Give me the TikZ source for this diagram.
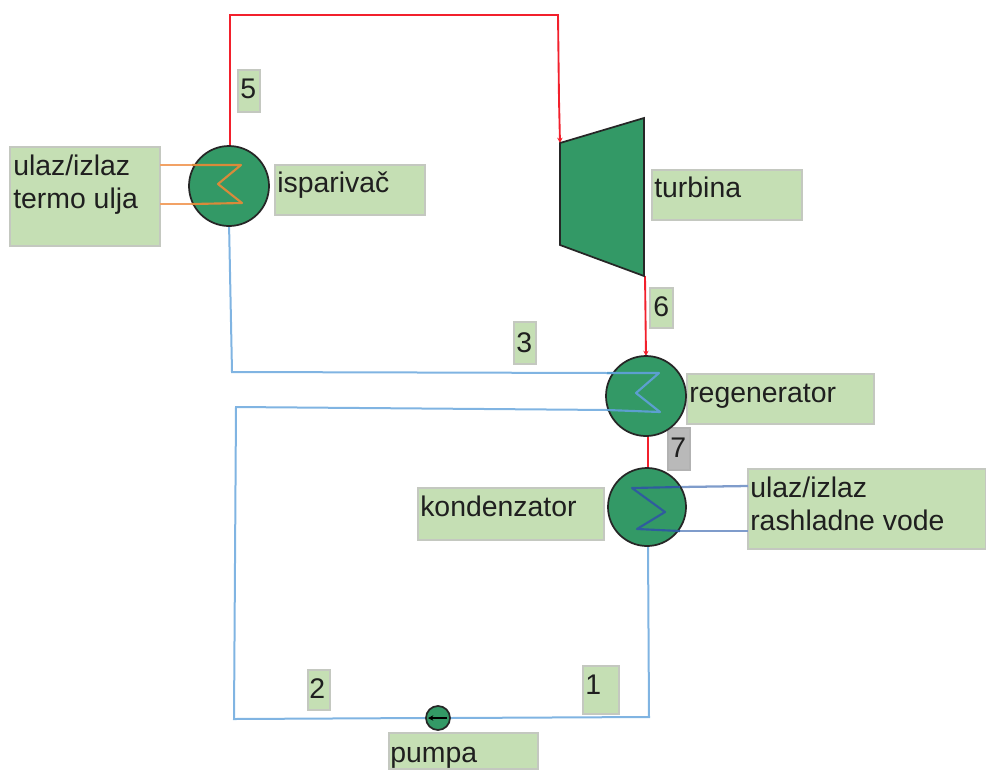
\documentclass[tikz,border=0pt]{standalone}
\usepackage{fontspec}
\setmainfont{Liberation Sans}
\usetikzlibrary{arrows.meta}
\definecolor{boxg}{HTML}{C5DFB4}
\definecolor{boxb}{HTML}{C4C8C0}
\definecolor{eqg}{HTML}{339966}
\definecolor{pipeblue}{HTML}{80B4E2}
\definecolor{coilblue}{HTML}{5C9FD0}
\definecolor{darkblue}{HTML}{2F5C9E}
\definecolor{extblue}{HTML}{7F9CCB}
\definecolor{hot}{HTML}{F2202C}
\definecolor{oil}{HTML}{F2A265}
\definecolor{oilc}{HTML}{D98A3A}
\tikzset{
  x=0.75pt,y=-0.75pt,
  labbox/.style={draw=boxb,line width=1.2pt,fill=boxg,anchor=north west,inner sep=0pt,outer sep=0pt},
  graybox/.style={labbox,draw=gray!60,fill=gray!55},
  txt/.style={anchor=base west,inner sep=0pt,font=\fontsize{21.3}{26}\selectfont,text=black!88},
  equip/.style={circle,draw=black!85,line width=1.3pt,fill=eqg,inner sep=0pt,outer sep=0pt},
  hotpipe/.style={hot,line width=1.4pt},
  coldpipe/.style={pipeblue,line width=1.5pt},
  coilc/.style={coilblue,line width=1.6pt},
  oilpipe/.style={oil,line width=1.5pt},
  oilcoil/.style={oilc,line width=1.6pt},
  darkcoil/.style={darkblue,line width=1.6pt},
  extpipe/.style={extblue,line width=1.7pt},
  tip/.style={-{Stealth[length=4pt,width=4pt]}}
}
\begin{document}
\begin{tikzpicture}
\useasboundingbox (0,0) rectangle (986,769);
% label boxes
\node[labbox,minimum width=150*0.75pt,minimum height=99*0.75pt] (bTermo) at (10,147) {};
\node[labbox,minimum width=150*0.75pt,minimum height=50*0.75pt] (bIsp) at (275,165) {};
\node[labbox,minimum width=150*0.75pt,minimum height=50*0.75pt] (bTurb) at (652,170) {};
\node[labbox,minimum width=22*0.75pt,minimum height=42*0.75pt] (b5) at (238,70) {};
\node[labbox,minimum width=23*0.75pt,minimum height=40*0.75pt] (b6) at (650,288) {};
\node[labbox,minimum width=22*0.75pt,minimum height=42*0.75pt] (b3) at (514,322) {};
\node[labbox,minimum width=187*0.75pt,minimum height=50*0.75pt] (bReg) at (687,374) {};
\node[graybox,minimum width=22*0.75pt,minimum height=42*0.75pt] (b7) at (668,428) {};
\node[labbox,minimum width=186*0.75pt,minimum height=52*0.75pt] (bKond) at (418,488) {};
\node[labbox,minimum width=238*0.75pt,minimum height=80*0.75pt] (bVoda) at (748,469) {};
\node[labbox,minimum width=22*0.75pt,minimum height=40*0.75pt] (b2) at (308,670) {};
\node[labbox,minimum width=36*0.75pt,minimum height=48*0.75pt] (b1) at (583,666) {};
\node[labbox,minimum width=149*0.75pt,minimum height=36*0.75pt] (bPump) at (389,733) {};
% texts
\node[txt] (tT1) at (13,175) {ulaz/izlaz};
\node[txt] (tT2) at (13,208) {termo ulja};
\node[txt] (tIsp) at (277,192) {isparivač};
\node[txt] (tTurb) at (654,197) {turbina};
\node[txt] (t5) at (240,98) {5};
\node[txt] (t6) at (653,316) {6};
\node[txt] (t3) at (516,352) {3};
\node[txt] (tReg) at (689,402) {regenerator};
\node[txt] (t7) at (670,457) {7};
\node[txt] (tKond) at (420,516) {kondenzator};
\node[txt] (tV1) at (750,497) {ulaz/izlaz};
\node[txt] (tV2) at (750,530) {rashladne vode};
\node[txt] (t2) at (309,698) {2};
\node[txt] (t1) at (585,694) {1};
\node[txt] (tPump) at (390,762) {pumpa};
% equipment anchors
\coordinate (a1) at (230,15);
\coordinate (a2) at (558,15);
\coordinate (tu1) at (560,143);
\coordinate (tu2) at (644,118);
\coordinate (tu3) at (644,276);
\coordinate (tu4) at (560,245);
\coordinate (b1c) at (232,372);
\coordinate (c1) at (236,407);
\coordinate (c2) at (234,719);
\coordinate (c3) at (649,717);
% external pipes
\draw[oilpipe] (160,165) -- (200,165);
\draw[oilpipe] (160,204) -- (200,204);
\draw[extpipe] (680,487) -- (748,486);
\draw[extpipe] (680,531) -- (748,531);
% pipes (below equipment)
\draw[hotpipe] (230,150) -- (a1) -- (a2) -- (559,100);
\draw[hotpipe,tip] (559,100) -- (tu1);
\draw[hotpipe,tip] (645,276) -- (646,356);
\draw[hotpipe] (648,430) -- (648,470);
\draw[coldpipe] (229,222) -- (b1c) -- (610,373);
\draw[coldpipe] (610,410) -- (c1) -- (c2) -- (426,718);
\draw[coldpipe] (450,718) -- (c3) -- (648,542);
% turbine
\draw[black!85,line width=1.3pt,fill=eqg] (tu1) -- (tu2) -- (tu3) -- (tu4) -- cycle;
% equipment
\node[equip,minimum size=80*0.75pt] (isp) at (229,186) {};
\node[equip,minimum size=80*0.75pt] (reg) at (646,396) {};
\node[equip,minimum size=78*0.75pt] (kon) at (647,507) {};
\node[equip,minimum size=24*0.75pt] (pum) at (438,718) {};
% coils
\draw[oilcoil,line join=round] (192,165) -- (241,165) -- (218,184) -- (242,203) -- (192,204);
\draw[coilc,line join=round] (607,373) -- (659,373) -- (636,393) -- (660,412) -- (607,410);
\draw[darkcoil,line join=round] (680,487) -- (632,488) -- (665,512) -- (637,529) -- (680,531);
\draw[black,line width=1.2pt,-{Stealth[length=4pt,width=4pt]}] (447,718) -- (428,718);
\end{tikzpicture}
\end{document}
